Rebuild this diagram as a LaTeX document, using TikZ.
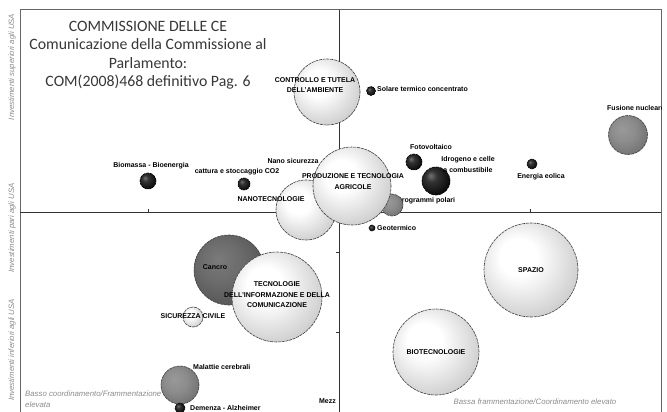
\documentclass[tikz,border=0pt]{standalone}
\usepackage{fontspec}
\setmainfont{Liberation Sans}
\newfontfamily\titlefont{Carlito}

% bubble shadings (highlight top left)
\pgfdeclareradialshading{lightball}{\pgfqpoint{-8bp}{8bp}}{color(0bp)=(white); color(10bp)=(white); color(40bp)=(black!28); color(62bp)=(black!55)}
\pgfdeclareradialshading{greyball}{\pgfqpoint{-8bp}{8bp}}{color(0bp)=(black!40); color(15bp)=(black!45); color(42bp)=(black!62); color(62bp)=(black!75)}
\pgfdeclareradialshading{cancroball}{\pgfqpoint{-8bp}{8bp}}{color(0bp)=(black!52); color(15bp)=(black!58); color(42bp)=(black!72); color(62bp)=(black!82)}
\pgfdeclareradialshading{blackball}{\pgfqpoint{-10bp}{10bp}}{color(0bp)=(black!55); color(10bp)=(black!80); color(35bp)=(black); color(62bp)=(black)}

\begin{document}
\begin{tikzpicture}[x=1pt, y=-1pt,
    bub/.style={circle, draw=black!75, line width=0.6pt, dash pattern=on 3pt off 0.8pt, inner sep=0pt},
    light/.style={bub, shading=lightball},
    grey/.style={bub, shading=greyball},
    dark/.style={bub, draw=black, shading=blackball},
    lbl/.style={font=\bfseries\fontsize{7}{10.5}\selectfont, inner sep=0pt, align=center},
    axlbl/.style={font=\itshape\fontsize{7.8}{11}\selectfont, text=black!45, inner sep=0pt}
]
    \clip (0,0) rectangle (667,412);
    \fill[white] (0,0) rectangle (667,412);

    % frame and quadrants
    \draw[black!60, line width=1pt] (20,10) rectangle (661,430);
    \draw[black!80, line width=0.8pt] (339,10) -- (339,430);
    \draw[black!80, line width=0.8pt] (20,212) -- (661,212);
    \draw[black!80] (148,212) -- ++(0,-3) (530,212) -- ++(0,-3);
    \draw[black!80] (339,252) -- ++(-3,0) (339,332) -- ++(-3,0);

    % axis labels
    \node[axlbl, rotate=90] (ysup) at (12,67) {Investimenti superiori agli USA};
    \node[axlbl, rotate=90] (ypari) at (12,228) {Investimenti pari agli USA};
    \node[axlbl, rotate=90] (yinf) at (12,350) {Investimenti inferiori agli USA};

    % title
    \node[font=\titlefont\fontsize{15.8}{18.5}\selectfont, text=black!78, align=center] (title) at (148,55)
        {COMMISSIONE DELLE CE\\Comunicazione della Commissione al\\Parlamento:\\COM(2008)468 definitivo Pag. 6};

    \begin{scope}
    \clip (20,10) rectangle (661,412);

    % labels covered by bubbles
    \node[lbl] (nanosic) at (293,161) {Nano sicurezza};
    \node[lbl, anchor=west] (polari-l) at (397,201) {Programmi polari};

    % upper half
    \node[light, minimum size=66pt] (ambiente) at (327,92) {};
    \node[light, minimum size=60pt] (nanotec) at (306,210) {};
    \node[grey, minimum size=22pt] (polari) at (392,205) {};
    \node[light, minimum size=78pt] (agricole) at (352,186) {};
    \node[dark, minimum size=28pt] (idrogeno) at (436,181) {};
    \node[dark, minimum size=16pt] (fotovolt) at (414,162) {};
    \node[dark, minimum size=10pt] (eolica) at (532,164) {};
    \node[grey, minimum size=39pt] (fusione) at (628,135) {};
    \node[dark, minimum size=9pt] (solare) at (371,91) {};
    \node[dark, minimum size=16pt] (biomassa) at (148,181) {};
    \node[dark, minimum size=12pt] (cattura) at (244,184) {};

    % lower half
    \node[dark, minimum size=6pt] (geoterm) at (372,228) {};
    \node[light, minimum size=94pt] (spazio) at (531,270) {};
    \node[light, minimum size=86pt] (biotec) at (436,352) {};
    \node[bub, shading=cancroball, minimum size=70pt] (cancro) at (229,270) {};
    \node[light, minimum size=90pt] (tic) at (277,297) {};
    \node[light, minimum size=20pt] (sicurezza) at (193,317) {};
    \node[grey, minimum size=38pt] (cerebrali) at (180,385) {};
    \node[dark, minimum size=10pt] (demenza) at (180,408) {};

    % bubble labels
    \node[lbl] (ambiente-l) at (315,85) {CONTROLLO E TUTELA\\DELL'AMBIENTE};
    \node[lbl] (agricole-l) at (353,181.5) {PRODUZIONE E TECNOLOGIA\\AGRICOLE};
    \node[lbl] (nanotec-l) at (271,199) {NANOTECNOLOGIE};
    \node[lbl] (biomassa-l) at (151,166) {Biomassa - Bioenergia};
    \node[lbl] (cattura-l) at (237,172) {cattura e stoccaggio CO2};
    \node[lbl] (fotovolt-l) at (431,147) {Fotovoltaico};
    \node[lbl] (idrogeno-l) at (468,164.5) {Idrogeno e celle\\a combustibile};
    \node[lbl] (eolica-l) at (541,177) {Energia eolica};
    \node[lbl, anchor=west] (fusione-l) at (607,108) {Fusione nucleare};
    \node[lbl, anchor=west] (solare-l) at (377,89) {Solare termico concentrato};
    \node[lbl, anchor=west] (geoterm-l) at (377,228) {Geotermico};
    \node[lbl] (spazio-l) at (spazio) {SPAZIO};
    \node[lbl] (biotec-l) at (biotec) {BIOTECNOLOGIE};
    \node[lbl] (cancro-l) at (215,267) {Cancro};
    \node[lbl] (tic-l) at (277,295) {TECNOLOGIE\\DELL'INFORMAZIONE E DELLA\\COMUNICAZIONE};
    \node[lbl] (sicurezza-l) at (193,316) {SICUREZZA CIVILE};
    \node[lbl, anchor=west] (cerebrali-l) at (193,367) {Malattie cerebrali};
    \node[lbl, anchor=west] (demenza-l) at (190,408) {Demenza - Alzheimer};
    \node[lbl, anchor=east] (mezz) at (336,401) {Mezz};

    % bottom captions
    \node[axlbl, anchor=north west, align=left] (basso) at (25,391) {Basso coordinamento/Frammentazione\\elevata};
    \node[axlbl] (bassa) at (535,402) {Bassa frammentazione/Coordinamento elevato};
    \end{scope}
\end{tikzpicture}
\end{document}
